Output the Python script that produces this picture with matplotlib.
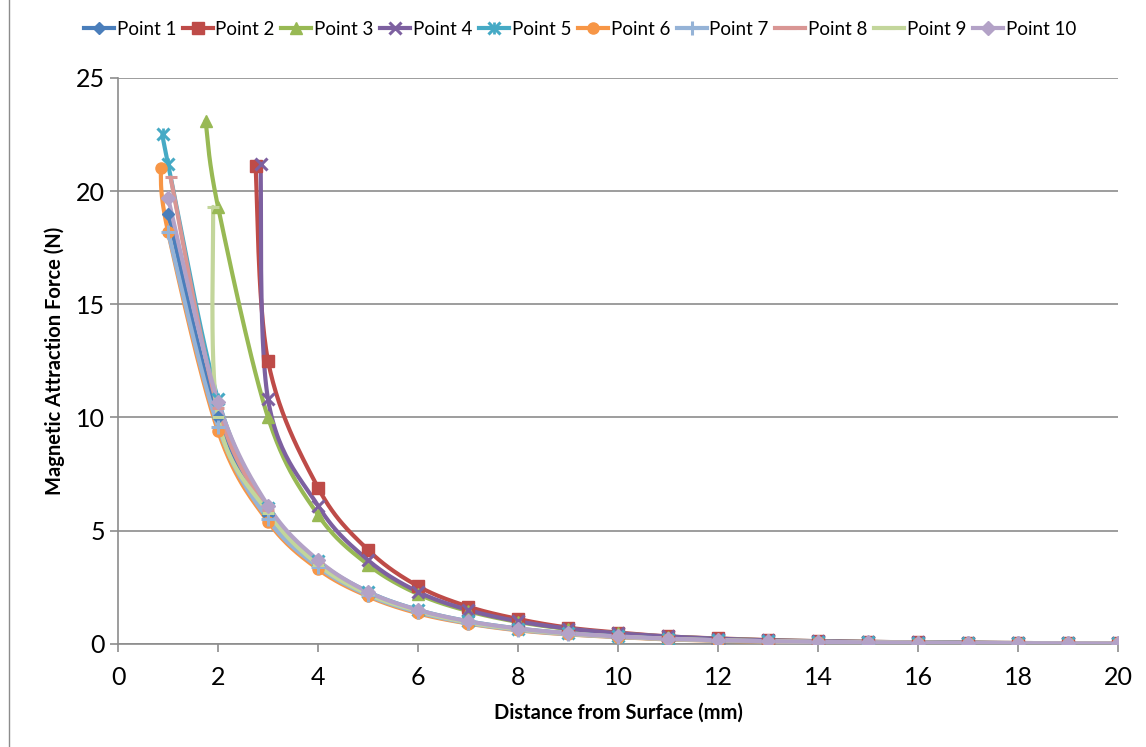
import numpy as np
import matplotlib
matplotlib.use("Agg")
import matplotlib.pyplot as plt
from matplotlib.lines import Line2D

plt.rcParams["font.family"] = ["Lato", "DejaVu Sans"]

# --- data -------------------------------------------------------------------
tail_x = list(range(4, 21))

p1_x = [1.0, 2, 3] + tail_x
p1_y = [19.0, 10.0, 5.7, 3.5, 2.2, 1.45, 0.95, 0.65, 0.45, 0.32, 0.22, 0.16,
        0.12, 0.09, 0.07, 0.05, 0.04, 0.03, 0.03, 0.02]

p2_x = [2.75, 3] + tail_x
p2_y = [21.1, 12.5, 6.9, 4.15, 2.55, 1.65, 1.1, 0.72, 0.5, 0.33, 0.24, 0.17,
        0.12, 0.09, 0.07, 0.05, 0.04, 0.03, 0.02]

p3_x = [1.75, 2, 3] + tail_x
p3_y = [23.1, 19.3, 10.0, 5.7, 3.5, 2.2, 1.45, 0.97, 0.66, 0.46, 0.32, 0.23,
        0.16, 0.12, 0.09, 0.07, 0.05, 0.04, 0.03, 0.02]

p4_x = [2.85, 3] + tail_x
p4_y = [21.2, 10.8, 6.1, 3.7, 2.3, 1.5, 1.0, 0.68, 0.47, 0.33, 0.23, 0.16,
        0.12, 0.09, 0.07, 0.05, 0.04, 0.03, 0.02]

p5_x = [0.9, 1, 2, 3] + tail_x
p5_y = [22.5, 21.2, 10.8, 6.0, 3.65, 2.3, 1.5, 1.0, 0.68, 0.47, 0.33, 0.23,
        0.16, 0.12, 0.09, 0.07, 0.05, 0.04, 0.03, 0.02, 0.02]

p6_x = [0.85, 1, 2, 3] + tail_x
p6_y = [21.0, 18.2, 9.4, 5.4, 3.3, 2.1, 1.35, 0.9, 0.6, 0.42, 0.3, 0.2,
        0.14, 0.1, 0.08, 0.06, 0.04, 0.03, 0.03, 0.02, 0.02]

p7_x = [1.0, 2, 3] + tail_x
p7_y = [18.2, 9.6, 5.5, 3.4, 2.15, 1.4, 0.92, 0.62, 0.43, 0.31, 0.21, 0.15,
        0.11, 0.08, 0.06, 0.05, 0.04, 0.03, 0.02, 0.02]

p8_x = [1.05, 2, 3] + tail_x
p8_y = [20.6, 10.4, 5.9, 3.6, 2.25, 1.47, 0.97, 0.66, 0.46, 0.32, 0.22, 0.16,
        0.12, 0.09, 0.07, 0.05, 0.04, 0.03, 0.02, 0.02]

p9_x = [1.9, 2, 3] + tail_x
p9_y = [19.3, 10.0, 5.8, 3.5, 2.2, 1.45, 0.95, 0.65, 0.45, 0.32, 0.22, 0.16,
        0.12, 0.09, 0.07, 0.05, 0.04, 0.03, 0.02, 0.02]

p10_x = [1.0, 2, 3] + tail_x
p10_y = [19.7, 10.7, 6.1, 3.7, 2.3, 1.5, 1.0, 0.68, 0.47, 0.33, 0.23, 0.16,
         0.12, 0.09, 0.07, 0.05, 0.04, 0.03, 0.02, 0.02]

labels = [f"Point {i}" for i in range(1, 11)]
xs = [p1_x, p2_x, p3_x, p4_x, p5_x, p6_x, p7_x, p8_x, p9_x, p10_x]
ys = [p1_y, p2_y, p3_y, p4_y, p5_y, p6_y, p7_y, p8_y, p9_y, p10_y]

colors = ["#4A7EBB", "#BE4B48", "#98B954", "#7D60A0", "#46AAC5",
          "#F79646", "#95B3D7", "#D99694", "#C3D69B", "#B3A2C7"]
markers = ["D", "s", "^", "x", "x", "o", "+", "_", "_", "D"]
msizes = [6, 8, 9, 9, 9, 8, 10, 9, 9, 7]


def excel_smooth(x, y, n=30):
    """Bezier smoothing like Excel's 'smoothed line' (control pts at 1/6 of neighbours)."""
    pts = np.column_stack([np.asarray(x, float), np.asarray(y, float)])
    out = [pts[0]]
    t = np.linspace(0, 1, n)[1:, None]
    for i in range(len(pts) - 1):
        p0 = pts[i - 1] if i > 0 else pts[i]
        p1, p2 = pts[i], pts[i + 1]
        p3 = pts[i + 2] if i + 2 < len(pts) else pts[i + 1]
        c1 = p1 + (p2 - p0) / 6
        c2 = p2 - (p3 - p1) / 6
        seg = ((1 - t) ** 3) * p1 + 3 * ((1 - t) ** 2) * t * c1 \
            + 3 * (1 - t) * t ** 2 * c2 + t ** 3 * p2
        out.extend(seg)
    out = np.array(out)
    return out[:, 0], out[:, 1]


fig = plt.figure(figsize=(11.46, 7.47), dpi=100)
ax = fig.add_axes([0.103, 0.138, 0.8726, 0.7578])

LW = 3.0
handles = []
for i, (x, y, c, m, ms, lab) in enumerate(zip(xs, ys, colors, markers, msizes, labels)):
    sx, sy = excel_smooth(x, y)
    ax.plot(sx, sy, color=c, lw=LW, solid_capstyle="round", zorder=3)
    mew = 2.2 if m in ("x", "+", "_") else 1
    ax.plot(x, y, ls="none", marker=m, ms=ms, color=c, mec=c, mew=mew, zorder=4)
    h = Line2D([], [], color=c, lw=LW, marker=m, ms=ms, mew=mew, mec=c)
    if lab == "Point 5":
        # Excel's star marker: an x with a vertical stroke through it
        ax.plot(x, y, ls="none", marker="|", ms=ms, color=c, mew=2.0, zorder=4)
        h = (h, Line2D([], [], ls="none", marker="|", ms=ms, color=c, mew=2.0))
    handles.append(h)

ax.set_xlim(0, 20)
ax.set_ylim(0, 25)
ax.set_xticks(np.arange(0, 21, 2))
ax.set_yticks(np.arange(0, 26, 5))
ax.yaxis.grid(True, color="#8C8C8C", lw=1.2)
ax.set_axisbelow(True)
for s in ("top", "right"):
    ax.spines[s].set_visible(False)
for s in ("left", "bottom"):
    ax.spines[s].set_color("#8C8C8C")
    ax.spines[s].set_linewidth(1.2)
ax.tick_params(axis="both", colors="#8C8C8C", labelcolor="black", labelsize=18,
               length=6, width=1.2)
ax.tick_params(axis="x", pad=10)
ax.set_xlabel("Distance from Surface (mm)", fontsize=14.5, fontweight="bold", labelpad=10)
ax.set_ylabel("Magnetic Attraction Force (N)", fontsize=14.5, fontweight="bold", labelpad=8)

fig.legend(handles, labels, loc="upper center", bbox_to_anchor=(0.506, 0.982),
           ncol=10, frameon=False, fontsize=13.5, handlelength=1.6,
           handletextpad=0.15, columnspacing=0.35, borderaxespad=0)

fig.add_artist(Line2D([0.008, 0.008], [0, 1], transform=fig.transFigure,
                      color="#8C8C8C", lw=1))

fig.savefig("out.png", dpi=100)
